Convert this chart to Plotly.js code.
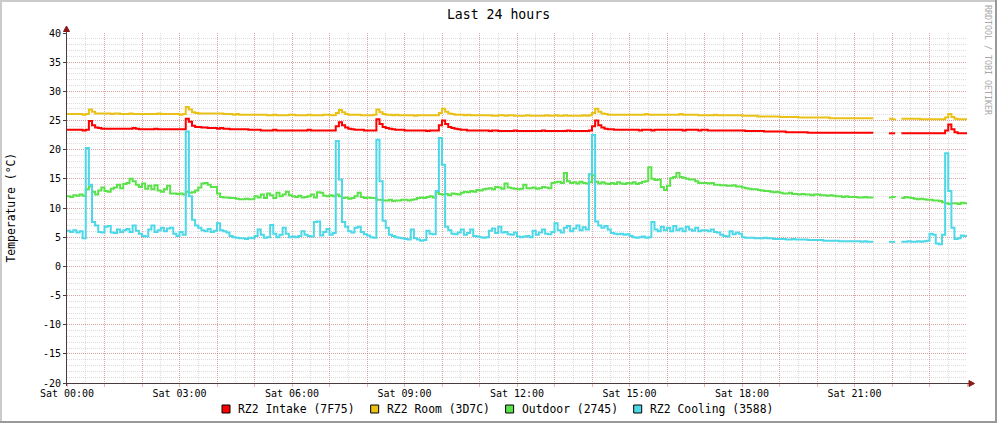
<!DOCTYPE html>
<html><head><meta charset="utf-8">
<script src="https://cdn.plot.ly/plotly-3.0.1.min.js"></script>
<style>html,body{margin:0;padding:0;background:#fff;}#chart{width:997px;height:423px;}</style>
</head><body><div id="chart"></div>
<script>
const chartTitle = 'Last 24 hours';
const yAxisTitle = 'Temperature (°C)';
const watermark = 'RRDTOOL / TOBI OETIKER';
const seriesNames = ['RZ2 Intake (7F75)', 'RZ2 Room (3D7C)', 'Outdoor (2745)', 'RZ2 Cooling (3588)'];
const seriesColors = ['#FF0000', '#EAC117', '#5BE24A', '#4DD8E8'];
const startDay = [2024, 0, 6]; // a Saturday
const stepMinutes = 5;

// 5-minute samples, one row per hour (00:00 .. 23:55) plus the closing sample
const intake = [
23.4,23.4,23.4,23.4,23.4,23.3,23.4,24.9,24.2,23.8,23.7,23.6,
23.6,23.6,23.6,23.6,23.6,23.6,23.6,23.6,23.6,23.7,23.6,23.5,
23.5,23.5,23.5,23.5,23.6,23.5,23.5,23.5,23.5,23.5,23.5,23.5,
23.5,23.5,25.3,24.8,24.1,23.9,23.9,23.8,23.8,23.7,23.7,23.7,
23.6,23.7,23.6,23.6,23.5,23.5,23.5,23.5,23.5,23.5,23.4,23.4,
23.4,23.4,23.3,23.3,23.3,23.3,23.4,23.3,23.3,23.3,23.3,23.3,
23.3,23.3,23.3,23.3,23.3,23.4,23.3,23.3,23.3,23.3,23.3,23.3,
23.3,23.3,24.0,24.7,24.2,23.8,23.6,23.5,23.4,23.4,23.4,23.3,
23.3,23.3,23.3,25.2,24.4,23.9,23.7,23.6,23.5,23.4,23.4,23.4,
23.3,23.3,23.3,23.3,23.3,23.3,23.3,23.2,23.3,23.3,23.3,24.2,
25.0,24.4,23.9,23.7,23.6,23.5,23.4,23.4,23.3,23.3,23.3,23.3,
23.3,23.3,23.3,23.2,23.3,23.3,23.2,23.2,23.2,23.2,23.2,23.3,
23.2,23.2,23.2,23.2,23.2,23.2,23.2,23.2,23.3,23.2,23.2,23.2,
23.2,23.2,23.2,23.2,23.3,23.2,23.2,23.2,23.2,23.2,23.2,23.3,
24.0,25.0,24.2,23.8,23.6,23.5,23.5,23.4,23.4,23.4,23.4,23.4,
23.4,23.4,23.4,23.3,23.4,23.4,23.4,23.3,23.4,23.4,23.4,23.4,
23.4,23.4,23.4,23.4,23.4,23.3,23.4,23.4,23.4,23.4,23.3,23.4,
23.4,23.3,23.3,23.3,23.3,23.3,23.3,23.3,23.3,23.3,23.3,23.3,
23.3,23.2,23.2,23.2,23.2,23.2,23.2,23.1,23.1,23.1,23.1,23.1,
23.1,23.1,23.0,23.0,23.0,23.0,23.0,23.0,23.0,22.9,22.9,22.9,
22.9,22.9,22.9,22.9,22.9,22.9,22.9,22.9,22.9,22.9,22.9,22.9,
22.9,22.9,22.9,22.9,22.9,22.9,22.9,null,null,null,null,22.8,
22.8,22.8,null,22.8,22.8,22.8,22.8,22.8,22.8,22.8,22.8,22.8,
22.8,22.8,22.8,22.8,22.8,23.3,24.3,23.5,23.0,22.8,22.8,22.8,
22.8];

const room = [
26.1,26.1,26.1,26.1,26.1,26.0,26.1,26.9,26.5,26.2,26.2,26.2,
26.2,26.2,26.1,26.2,26.2,26.1,26.1,26.1,26.2,26.1,26.1,26.1,
26.1,26.1,26.1,26.1,26.1,26.2,26.1,26.1,26.1,26.1,26.1,26.1,
26.0,26.1,27.3,26.9,26.4,26.3,26.2,26.2,26.2,26.2,26.2,26.2,
26.2,26.2,26.1,26.1,26.1,26.0,26.1,26.0,26.0,26.0,26.0,26.0,
26.0,26.0,26.0,26.0,25.9,25.9,26.0,25.9,25.9,25.9,25.9,26.0,
26.0,25.9,25.9,25.9,25.9,26.0,25.9,25.9,25.9,25.9,26.0,26.0,
25.9,25.9,26.3,26.8,26.4,26.1,26.0,26.0,26.0,26.0,25.9,25.9,
25.9,25.9,26.0,26.9,26.4,26.1,26.0,26.0,25.9,26.0,25.9,25.9,
25.9,25.9,25.9,25.8,25.9,25.9,25.9,25.9,25.9,25.9,25.9,26.3,
27.0,26.5,26.2,26.1,26.0,26.0,26.0,25.9,26.0,25.9,25.9,25.9,
25.9,25.9,25.9,25.9,25.8,25.8,25.9,25.9,25.8,25.9,25.9,25.8,
25.8,25.8,25.8,25.9,25.8,25.8,25.8,25.8,25.8,25.9,25.8,25.8,
25.9,25.8,25.8,25.9,25.8,25.8,25.8,25.8,25.8,25.9,25.8,25.9,
26.3,27.0,26.5,26.2,26.1,26.0,26.0,26.0,26.0,26.0,26.0,26.0,
26.0,26.0,26.0,26.0,26.0,26.1,26.0,26.0,26.0,26.0,26.0,26.0,
26.0,26.0,26.0,26.0,26.1,26.0,26.0,26.0,26.0,26.0,25.9,25.9,
25.9,25.9,25.9,26.0,25.9,25.9,25.9,25.9,25.9,25.9,25.9,25.9,
25.8,25.8,25.8,25.8,25.8,25.7,25.7,25.7,25.7,25.7,25.7,25.7,
25.6,25.6,25.6,25.6,25.6,25.6,25.5,25.5,25.5,25.5,25.5,25.5,
25.5,25.5,25.5,25.5,25.4,25.4,25.4,25.4,25.4,25.4,25.4,25.4,
25.4,25.4,25.4,25.4,25.4,25.4,25.4,null,null,null,null,25.3,
25.2,25.3,null,25.3,25.3,25.3,25.3,25.3,25.3,25.2,25.2,25.2,
25.2,25.2,25.2,25.2,25.2,25.5,26.1,25.6,25.3,25.2,25.2,25.2,
25.2];

const outdoor = [
12.0,11.9,12.2,12.1,12.3,12.1,13.2,13.7,12.8,12.3,13.0,13.5,
12.9,12.8,13.3,13.5,14.0,13.4,14.1,14.3,15.0,14.6,14.0,13.6,
14.2,13.3,13.8,13.2,13.9,13.0,12.8,13.2,13.8,12.5,12.5,12.4,
12.5,12.3,12.8,12.6,12.7,13.0,13.5,14.2,14.3,14.0,13.6,13.6,
12.5,11.9,11.8,11.8,11.7,11.7,11.6,11.5,11.5,11.6,11.5,11.5,
12.0,11.8,12.3,11.7,12.5,12.2,11.7,12.6,12.0,12.3,12.8,12.2,
12.0,11.9,12.1,11.8,11.9,12.0,12.3,11.8,12.7,12.6,12.1,12.0,
12.2,12.0,12.3,12.0,11.7,11.8,11.6,11.7,12.0,12.6,11.9,11.7,
11.8,11.7,11.7,11.4,11.4,11.3,11.3,11.4,11.2,11.3,11.3,11.4,
11.4,11.3,11.4,11.5,11.7,11.8,11.7,11.9,12.0,11.8,12.7,12.4,
12.3,12.4,12.2,12.5,12.4,12.3,12.6,12.8,12.7,12.9,12.8,13.1,
13.0,13.2,13.3,13.4,13.2,13.6,13.5,13.3,14.2,13.5,13.4,13.3,
13.2,13.3,14.0,13.4,13.4,13.5,13.3,13.4,13.6,13.5,13.4,14.3,
14.4,14.5,14.3,16.0,14.6,14.3,14.4,14.2,14.5,14.3,14.2,14.4,
15.6,14.5,14.2,14.4,14.2,14.1,14.3,14.1,14.4,14.2,14.1,14.3,
14.2,14.4,14.1,14.3,14.5,14.6,17.0,15.0,14.8,14.9,13.6,13.1,
13.8,15.1,15.3,16.0,15.3,15.2,15.0,14.9,14.9,14.6,14.3,14.3,
14.3,14.2,14.3,14.0,14.0,13.9,13.9,13.8,13.8,13.9,13.7,13.7,
13.5,13.4,13.3,13.2,13.2,13.1,13.0,12.9,12.9,12.8,12.7,12.8,
12.6,12.5,12.5,12.6,12.4,12.4,12.3,12.4,12.3,12.3,12.2,12.3,
12.3,12.2,12.2,12.1,12.2,12.1,12.0,12.0,11.9,12.0,11.9,11.9,
11.9,11.8,11.8,11.9,11.8,11.8,11.8,null,null,null,null,11.8,
11.9,11.8,null,11.7,11.9,11.8,11.7,11.6,11.5,11.6,11.5,11.4,
11.4,11.3,11.3,11.2,11.0,10.8,10.7,10.8,10.8,10.7,10.9,10.8,
10.8];

const cooling = [
6.1,5.9,6.2,5.8,6.0,4.8,20.3,14.0,7.6,7.0,5.9,5.8,
6.8,6.9,5.8,5.7,6.3,5.9,6.2,6.4,5.9,7.0,6.1,5.6,
5.2,5.1,6.3,7.0,5.9,6.2,6.6,6.0,6.5,6.6,5.6,5.2,
5.9,5.4,23.1,12.0,8.0,7.0,6.6,6.2,6.0,6.4,5.9,6.1,
7.4,6.2,6.0,5.8,5.2,5.0,4.9,4.8,4.8,4.7,4.9,4.8,
5.2,6.3,5.4,4.9,5.0,7.1,5.6,5.0,5.4,6.6,5.6,5.0,
5.1,5.0,5.2,6.0,5.4,5.2,5.1,7.6,7.7,5.3,5.9,6.4,
5.4,5.7,21.5,14.9,7.6,6.8,6.0,5.8,6.6,6.8,5.9,5.5,
5.3,5.0,4.9,21.7,14.6,7.8,6.6,5.4,5.2,5.0,4.9,4.8,
4.7,4.6,6.3,4.8,4.6,4.4,4.5,6.1,5.6,5.5,12.9,22.0,
17.4,6.8,6.2,5.6,5.5,5.8,6.3,5.4,5.7,6.3,5.2,5.1,
5.0,4.9,5.0,6.1,6.5,5.7,6.8,5.8,5.9,5.5,5.4,5.8,
5.1,5.0,5.1,5.2,5.0,6.1,5.4,5.8,6.3,5.6,5.5,5.9,
7.4,6.2,5.8,6.6,6.9,6.0,6.5,7.0,6.2,6.7,6.3,15.8,
22.5,7.7,7.0,6.6,6.9,6.3,5.7,5.6,5.5,5.6,5.4,5.5,
5.2,5.0,4.9,5.0,5.1,4.9,5.0,7.6,6.3,6.0,6.8,6.2,
6.6,6.0,6.9,6.2,6.5,6.0,6.8,6.3,6.1,6.6,6.0,6.2,
6.2,6.0,6.3,5.9,5.8,5.4,5.2,5.1,6.0,5.5,5.8,5.6,
5.0,4.9,4.9,4.9,4.8,4.8,4.8,4.9,4.8,4.8,4.7,4.7,
4.7,4.7,4.6,4.6,4.7,4.6,4.6,4.6,4.6,4.5,4.5,4.5,
4.5,4.5,4.4,4.4,4.4,4.4,4.4,4.3,4.3,4.3,4.3,4.3,
4.3,4.3,4.2,4.3,4.2,4.2,4.2,null,null,null,null,4.2,
4.2,4.2,null,4.2,4.2,4.3,4.2,4.2,4.3,4.2,4.3,4.4,
5.6,5.4,3.9,3.8,5.4,19.4,12.9,6.6,4.7,4.8,5.3,5.2,
5.2];

const xTickLabels = ['Sat 00:00','Sat 03:00','Sat 06:00','Sat 09:00','Sat 12:00','Sat 15:00','Sat 18:00','Sat 21:00'];
const yTickValues = [-20,-15,-10,-5,0,5,10,15,20,25,30,35,40];
const yTickLabels = ['-20','-15','-10','-5','0','5','10','15','20','25','30','35','40'];

const FONT = 'DejaVu Sans Mono';
const t0 = Date.UTC(startDay[0], startDay[1], startDay[2]);
const fmt = ms => new Date(ms).toISOString().slice(0, 19).replace('T', ' ');
const times = intake.map((_, i) => fmt(t0 + i * stepMinutes * 60000));
const series = [intake, room, outdoor, cooling];

const traces = series.map((vals, k) => ({
  type: 'scatter', mode: 'lines', x: times, y: vals, name: seriesNames[k],
  line: {color: seriesColors[k], width: 2, shape: 'hv'},
  connectgaps: false, showlegend: false, hoverinfo: 'skip'
}));

const hourVals = [], hourText = [];
for (let h = 0; h <= 24; h++) {
  hourVals.push(fmt(t0 + h * 3600000));
  hourText.push(h % 3 === 0 && h < 24 ? xTickLabels[h / 3] : '');
}

// pixel -> paper helpers
const L = 67, T = 33, W = 900, H = 350;
const px = x => (x - L) / W, py = y => (T + H - y) / H;

const majorGrid = 'rgba(215,90,90,0.45)';
const minorGrid = 'rgba(150,150,150,0.32)';
const axisColor = '#4a3c3c';
const arrowColor = '#8a1818';

const shapes = [
  {type:'line', xref:'paper', yref:'paper', x0:px(0), x1:px(997), y0:py(1), y1:py(1), line:{color:'#CBCBCB', width:2}},
  {type:'line', xref:'paper', yref:'paper', x0:px(1), x1:px(1), y0:py(0), y1:py(423), line:{color:'#CBCBCB', width:2}},
  {type:'line', xref:'paper', yref:'paper', x0:px(0), x1:px(997), y0:py(422), y1:py(422), line:{color:'#999999', width:2}},
  {type:'line', xref:'paper', yref:'paper', x0:px(996), x1:px(996), y0:py(0), y1:py(423), line:{color:'#999999', width:2}},
  {type:'line', xref:'paper', yref:'paper', layer:'above', x0:px(66.5), x1:px(66.5), y0:py(386), y1:py(30), line:{color:axisColor, width:1}},
  {type:'line', xref:'paper', yref:'paper', layer:'above', x0:px(63), x1:px(970), y0:py(383.5), y1:py(383.5), line:{color:axisColor, width:1}},
  {type:'path', xref:'paper', yref:'paper', layer:'above',
   path:`M ${px(63.5)} ${py(31.5)} L ${px(66.5)} ${py(26)} L ${px(69.5)} ${py(31.5)} Z`,
   fillcolor:arrowColor, line:{color:arrowColor, width:1}},
  {type:'path', xref:'paper', yref:'paper', layer:'above',
   path:`M ${px(969)} ${py(380.5)} L ${px(974.5)} ${py(383.5)} L ${px(969)} ${py(386.5)} Z`,
   fillcolor:arrowColor, line:{color:arrowColor, width:1}}
];

const annotations = [
  {xref:'paper', yref:'paper', x:px(10.5), y:py(208), text:yAxisTitle, textangle:-90, showarrow:false,
   xanchor:'center', yanchor:'middle', font:{family:FONT, size:11.4, color:'#000'}},
  {xref:'paper', yref:'paper', x:px(988), y:py(60), text:watermark, textangle:90, showarrow:false,
   xanchor:'center', yanchor:'middle', font:{family:FONT, size:8.3, color:'#a8a8a8'}}
];

// legend row
const charW = 11.4 * 0.602;
let cx = 222;
seriesNames.forEach((name, k) => {
  shapes.push({type:'rect', xref:'paper', yref:'paper', x0:px(cx), x1:px(cx + 8), y0:py(413), y1:py(405),
    fillcolor:seriesColors[k], line:{color:'#000', width:1}});
  annotations.push({xref:'paper', yref:'paper', x:px(cx + 15), y:py(409), text:name, showarrow:false,
    xanchor:'left', yanchor:'middle', borderpad:0, font:{family:FONT, size:11.4, color:'#000'}});
  cx += 15 + name.length * charW + 17;
});

const layout = {
  width: 997, height: 423,
  margin: {l: L, r: 997 - L - W, t: T, b: 423 - T - H, pad: 0},
  paper_bgcolor: '#FFFFFF', plot_bgcolor: '#FFFFFF',
  title: {text: chartTitle, font: {family: FONT, size: 13.2, color: '#000'},
          x: 0.5, xref: 'container', xanchor: 'center', y: 1 - 14 / 423, yref: 'container', yanchor: 'middle'},
  showlegend: false,
  xaxis: {
    type: 'date', range: [hourVals[0], hourVals[24]],
    tickmode: 'array', tickvals: hourVals, ticktext: hourText,
    showgrid: true, gridcolor: majorGrid, griddash: '1px,1px', gridwidth: 1,
    ticks: 'outside', ticklen: 3, tickcolor: majorGrid, tickwidth: 1,
    ticklabelstandoff: -2,
    tickfont: {family: FONT, size: 10, color: '#000'},
    zeroline: false, showline: false, fixedrange: true,
    minor: {tickmode: 'linear', tick0: hourVals[0], dtick: 1800000, showgrid: true,
            gridcolor: minorGrid, griddash: '1px,1px', gridwidth: 1, ticks: ''}
  },
  yaxis: {
    range: [-20, 40],
    tickmode: 'array', tickvals: yTickValues, ticktext: yTickLabels,
    showgrid: true, gridcolor: majorGrid, griddash: '1px,1px', gridwidth: 1,
    ticks: 'outside', ticklen: 3, tickcolor: axisColor, tickwidth: 1,
    tickfont: {family: FONT, size: 10, color: '#000'},
    zeroline: false, showline: false, fixedrange: true,
    minor: {tickmode: 'linear', tick0: 0, dtick: 1, showgrid: true,
            gridcolor: minorGrid, griddash: '1px,1px', gridwidth: 1, ticks: ''}
  },
  shapes: shapes,
  annotations: annotations
};

Plotly.newPlot('chart', traces, layout, {staticPlot: true, displayModeBar: false});
</script>
</body></html>
